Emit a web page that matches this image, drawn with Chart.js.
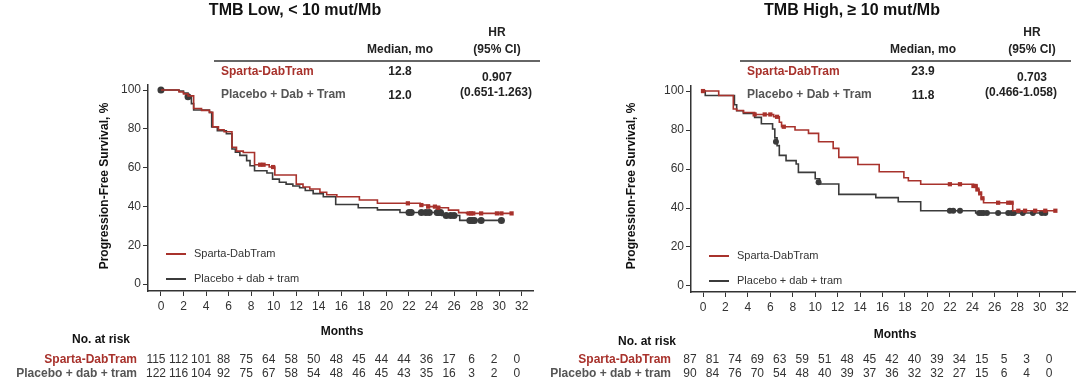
<!DOCTYPE html>
<html>
<head>
<meta charset="utf-8">
<script src="https://cdn.jsdelivr.net/npm/chart.js@4.4.1/dist/chart.umd.min.js"></script>
<style>
  html, body { margin: 0; padding: 0; background: #fff; }
  #wrap { position: relative; width: 1080px; height: 392px; }
  canvas { position: absolute; top: 0; }
</style>
</head>
<body>
<div id="wrap">
  <canvas id="lowChart" width="540" height="392" style="left:0"></canvas>
  <canvas id="highChart" width="540" height="392" style="left:540px"></canvas>
</div>
<script>
// tick labels
const monthTicks = [0, 2, 4, 6, 8, 10, 12, 14, 16, 18, 20, 22, 24, 26, 28, 30, 32];
const pfsTicks = [0, 20, 40, 60, 80, 100];

// TMB low - KM steps (month, % PFS)
const lowSpartaT = [0, 1.6, 2.0, 2.4, 2.9, 3.6, 4.3, 4.6, 5.1, 5.6, 6.3, 6.7, 7.3, 8.3, 9.6, 10.1, 12.0, 12.6, 13.2, 14.1, 14.7, 15.6, 17.6, 19.2, 23.0, 23.8, 24.7, 25.5, 26.4, 27.1, 31.1];
const lowSpartaS = [100, 99, 98, 97, 90.5, 89.5, 88.5, 81, 79.5, 78.5, 70.5, 68.5, 67.8, 61.5, 60.3, 56.2, 51.5, 50, 49, 47.3, 46, 45, 43.3, 41.6, 40.7, 39.9, 39.3, 38.1, 36.8, 36.4, 36.4];
const lowSpartaCensT = [8.8, 9.1, 9.95, 21.9, 23.1, 23.7, 24.3, 24.6, 27.3, 27.5, 27.7, 28.4, 29.8, 30.2, 31.1];
const lowSpartaCensS = [61.5, 61.5, 60.3, 41.6, 40.7, 39.9, 39.9, 39.3, 36.4, 36.4, 36.4, 36.4, 36.4, 36.4, 36.4];

const lowPlaceboT = [0, 1.6, 2.0, 2.4, 2.7, 2.9, 4.3, 4.5, 5.0, 5.8, 6.3, 6.6, 7.0, 7.6, 7.9, 8.3, 9.4, 9.9, 10.5, 11.1, 11.7, 12.3, 12.8, 13.5, 14.4, 15.5, 17.5, 19.2, 21.2, 24.9, 26.5, 30.3];
const lowPlaceboS = [100, 99.5, 98.5, 96.5, 93, 89.7, 88.5, 81, 79, 77.5, 69.6, 68, 66.3, 63.6, 61, 58.4, 57.2, 54.1, 52.5, 51.5, 50.5, 49.6, 48.2, 46.6, 45, 41, 39.3, 38.2, 36.9, 35.3, 32.8, 32.8];
const lowPlaceboCensT = [0, 2.4, 22.0, 22.2, 23.1, 23.5, 23.8, 24.5, 24.6, 24.8, 25.3, 25.7, 26.0, 27.4, 27.6, 27.8, 28.4, 30.2];
const lowPlaceboCensS = [100, 96.5, 36.9, 36.9, 36.9, 36.9, 36.9, 36.9, 36.9, 36.9, 35.3, 35.3, 35.3, 32.8, 32.8, 32.8, 32.8, 32.8];

const lowRiskSparta = [115, 112, 101, 88, 75, 64, 58, 50, 48, 45, 44, 44, 36, 17, 6, 2, 0];
const lowRiskPlacebo = [122, 116, 104, 92, 75, 67, 58, 54, 48, 46, 45, 43, 35, 16, 3, 2, 0];

// TMB high - KM steps (month, % PFS)
const highSpartaT = [0, 1.4, 2.7, 3.0, 3.6, 4.6, 6.3, 6.8, 7.0, 8.2, 9.4, 10.3, 11.6, 12.1, 13.8, 15.7, 17.9, 18.3, 19.4, 24.1, 24.4, 24.6, 24.8, 25.0, 27.6, 31.5];
const highSpartaS = [100, 97.7, 90.8, 90, 89, 88, 86.8, 84, 81.7, 80, 78.3, 74, 70.6, 66, 62.3, 58.6, 55.5, 54, 52.2, 51.3, 49.5, 47.5, 45, 42.7, 38.6, 38.6];
const highSpartaCensT = [0, 4.6, 5.5, 6.0, 6.6, 7.2, 22.0, 22.9, 24.1, 24.3, 24.45, 24.7, 24.9, 26.3, 27.2, 27.5, 28.1, 28.7, 29.6, 30.5, 31.4];
const highSpartaCensS = [100, 88, 88, 88, 86.8, 81.7, 52.2, 52.2, 51.3, 51.3, 49.5, 47.5, 45, 42.7, 42.7, 42.7, 38.6, 38.6, 38.6, 38.6, 38.6];

const highPlaceboT = [0, 0.2, 2.8, 3.0, 3.6, 4.6, 5.2, 6.2, 6.4, 6.6, 6.8, 7.4, 8.3, 8.5, 10.0, 10.4, 12.1, 15.4, 17.4, 19.4, 24.3, 30.6];
const highPlaceboS = [100, 97.7, 93, 89.9, 88.5, 86.5, 83.2, 80.5, 76, 72, 67, 64.3, 62.6, 58.3, 55, 52.3, 47, 45.3, 43.2, 38.6, 37.4, 37.4];
const highPlaceboCensT = [6.5, 10.3, 22.0, 22.3, 22.9, 24.6, 24.8, 25.0, 25.3, 26.3, 27.2, 27.5, 27.7, 28.5, 29.4, 30.2, 30.5];
const highPlaceboCensS = [74, 53.2, 38.6, 38.6, 38.6, 37.4, 37.4, 37.4, 37.4, 37.4, 37.4, 37.4, 37.4, 37.4, 37.4, 37.4, 37.4];

const highRiskSparta = [87, 81, 74, 69, 63, 59, 51, 48, 45, 42, 40, 39, 34, 15, 5, 3, 0];
const highRiskPlacebo = [90, 84, 76, 70, 54, 48, 40, 39, 37, 36, 32, 32, 27, 15, 6, 4, 0];

const FONT = "'Liberation Sans', Arial, Helvetica, sans-serif";
const RED = '#a8322c';
const DARK = '#3b3b3b';
const GREY_LABEL = '#555555';

function toPoints(t, s) {
    return t.map((v, i) => ({ x: v, y: s[i] }));
}

// draws title, summary table, legend, axis titles and risk table
const panelText = {
    id: 'panelText',
    afterDraw(chart, args, opts) {
        const ctx = chart.ctx;
        const p = opts.panel;
        const xs = chart.scales.x;

        function txt(s, x, y, font, color, align) {
            ctx.font = font;
            ctx.fillStyle = color;
            ctx.textAlign = align || 'left';
            ctx.textBaseline = 'middle';
            ctx.fillText(s, x, y);
        }

        ctx.save();
        txt(p.title, p.titleX, 11, 'bold 16px ' + FONT, '#111', 'center');

        // summary table
        txt('HR', p.hrX, 33, 'bold 12px ' + FONT, '#222', 'center');
        txt('Median, mo', p.medianX, 50, 'bold 12px ' + FONT, '#222', 'center');
        txt('(95% CI)', p.hrX, 50, 'bold 12px ' + FONT, '#222', 'center');
        ctx.strokeStyle = '#333';
        ctx.lineWidth = 1.5;
        ctx.beginPath();
        ctx.moveTo(p.lineFrom, 61);
        ctx.lineTo(p.lineTo, 61);
        ctx.stroke();
        txt('Sparta-DabTram', p.labelX, 72, 'bold 12px ' + FONT, RED);
        txt('Placebo + Dab + Tram', p.labelX, 95, 'bold 12px ' + FONT, GREY_LABEL);
        txt(p.medSparta, p.medianX, 72, 'bold 12px ' + FONT, '#222', 'center');
        txt(p.medPlacebo, p.medianX, 96, 'bold 12px ' + FONT, '#222', 'center');
        txt(p.hr, p.hrX, 78, 'bold 12px ' + FONT, '#222', 'center');
        txt(p.ci, p.ciX, 93, 'bold 12px ' + FONT, '#222', 'center');

        // legend
        ctx.lineWidth = 2;
        [[RED, 'Sparta-DabTram', p.legendY], [DARK, 'Placebo + dab + tram', p.legendY + 25]].forEach(item => {
            ctx.strokeStyle = item[0];
            ctx.beginPath();
            ctx.moveTo(p.legendX, item[2]);
            ctx.lineTo(p.legendX + 20, item[2]);
            ctx.stroke();
            txt(item[1], p.legendX + 28, item[2], '11px ' + FONT, '#333');
        });

        // y axis title
        ctx.save();
        ctx.translate(p.yTitleX, 186);
        ctx.rotate(-Math.PI / 2);
        txt('Progression-Free Survival, %', 0, 0, 'bold 12px ' + FONT, '#111', 'center');
        ctx.restore();

        txt('Months', p.monthsX, p.monthsY, 'bold 12px ' + FONT, '#111', 'center');

        // number at risk
        txt('No. at risk', p.noRiskX, p.noRiskY, 'bold 12px ' + FONT, '#111', 'center');
        txt('Sparta-DabTram', p.riskLabelX, 360, 'bold 12px ' + FONT, RED, 'right');
        txt('Placebo + dab + tram', p.riskLabelX, 374, 'bold 12px ' + FONT, GREY_LABEL, 'right');
        monthTicks.forEach((m, i) => {
            const x = xs.getPixelForValue(m) + p.riskShift;
            txt(String(p.riskSparta[i]), x, 360, '12px ' + FONT, '#333', 'center');
            txt(String(p.riskPlacebo[i]), x, 374, '12px ' + FONT, '#333', 'center');
        });
        ctx.restore();
    }
};

function makeChart(id, d, p) {
    const ctx = document.getElementById(id).getContext('2d');
    return new Chart(ctx, {
        type: 'line',
        data: {
            datasets: [
                {
                    label: 'Sparta-DabTram',
                    data: toPoints(d.spartaT, d.spartaS),
                    borderColor: RED,
                    borderWidth: 1.6,
                    stepped: true,
                    pointRadius: 0,
                    fill: false
                },
                {
                    label: 'Sparta censored',
                    data: toPoints(d.spartaCensT, d.spartaCensS),
                    showLine: false,
                    pointStyle: 'rect',
                    pointRadius: 3,
                    backgroundColor: RED,
                    borderColor: RED,
                    borderWidth: 0
                },
                {
                    label: 'Placebo + dab + tram',
                    data: toPoints(d.placeboT, d.placeboS),
                    borderColor: DARK,
                    borderWidth: 1.6,
                    stepped: true,
                    pointRadius: 0,
                    fill: false
                },
                {
                    label: 'Placebo censored',
                    data: toPoints(d.placeboCensT, d.placeboCensS),
                    showLine: false,
                    pointStyle: 'circle',
                    pointRadius: p.dotRadius,
                    backgroundColor: DARK,
                    borderColor: DARK,
                    borderWidth: 0
                }
            ]
        },
        options: {
            responsive: false,
            animation: false,
            events: [],
            layout: {
                padding: { left: p.padLeft, right: p.padRight, top: p.padTop, bottom: p.padBottom }
            },
            plugins: {
                legend: { display: false },
                tooltip: { enabled: false },
                panelText: { panel: p }
            },
            scales: {
                x: {
                    type: 'linear',
                    min: p.xMin,
                    max: p.xMax,
                    afterBuildTicks: s => { s.ticks = monthTicks.map(v => ({ value: v })); },
                    afterFit: s => { s.height = 30; },
                    ticks: { color: '#333', font: { size: 12, family: FONT }, padding: 3, maxRotation: 0, autoSkip: false },
                    grid: { display: true, drawOnChartArea: false, drawTicks: true, tickLength: 5, color: '#333' },
                    border: { display: true, color: '#333', width: 1.5 }
                },
                y: {
                    type: 'linear',
                    min: p.yMin,
                    max: p.yMax,
                    afterBuildTicks: s => { s.ticks = pfsTicks.map(v => ({ value: v })); },
                    afterFit: s => { s.width = 48; },
                    ticks: { color: '#333', font: { size: 12, family: FONT }, padding: 2 },
                    grid: { display: true, drawOnChartArea: false, drawTicks: true, tickLength: 5, color: '#333' },
                    border: { display: true, color: '#333', width: 1.5 }
                }
            }
        },
        plugins: [panelText]
    });
}

makeChart('lowChart', {
    spartaT: lowSpartaT, spartaS: lowSpartaS,
    spartaCensT: lowSpartaCensT, spartaCensS: lowSpartaCensS,
    placeboT: lowPlaceboT, placeboS: lowPlaceboS,
    placeboCensT: lowPlaceboCensT, placeboCensS: lowPlaceboCensS
}, {
    title: 'TMB Low, < 10 mut/Mb', medSparta: '12.8', medPlacebo: '12.0', hr: '0.907', ci: '(0.651-1.263)',
    riskSparta: lowRiskSparta, riskPlacebo: lowRiskPlacebo,
    padLeft: 100, padRight: 7, padTop: 85, padBottom: 71,
    xMin: -1.15, xMax: 33.0, yMin: -3.6, yMax: 102.6, dotRadius: 3.5,
    titleX: 295, hrX: 497, ciX: 496, medianX: 400, labelX: 221, lineFrom: 214, lineTo: 540,
    legendX: 166, legendY: 254, yTitleX: 105, monthsX: 342, monthsY: 332,
    noRiskX: 101, noRiskY: 340, riskLabelX: 137, riskShift: -5
});

makeChart('highChart', {
    spartaT: highSpartaT, spartaS: highSpartaS,
    spartaCensT: highSpartaCensT, spartaCensS: highSpartaCensS,
    placeboT: highPlaceboT, placeboS: highPlaceboS,
    placeboCensT: highPlaceboCensT, placeboCensS: highPlaceboCensS
}, {
    title: 'TMB High, \u2265 10 mut/Mb', medSparta: '23.9', medPlacebo: '11.8', hr: '0.703', ci: '(0.466-1.058)',
    riskSparta: highRiskSparta, riskPlacebo: highRiskPlacebo,
    padLeft: 103, padRight: 5, padTop: 86, padBottom: 70,
    xMin: -1.07, xMax: 33.15, yMin: -3.1, yMax: 102.6, dotRadius: 3,
    titleX: 312, hrX: 492, ciX: 481, medianX: 383, labelX: 207, lineFrom: 200, lineTo: 531,
    legendX: 169, legendY: 256, yTitleX: 92, monthsX: 355, monthsY: 335,
    noRiskX: 107, noRiskY: 342, riskLabelX: 131, riskShift: -13
});
</script>
</body>
</html>
